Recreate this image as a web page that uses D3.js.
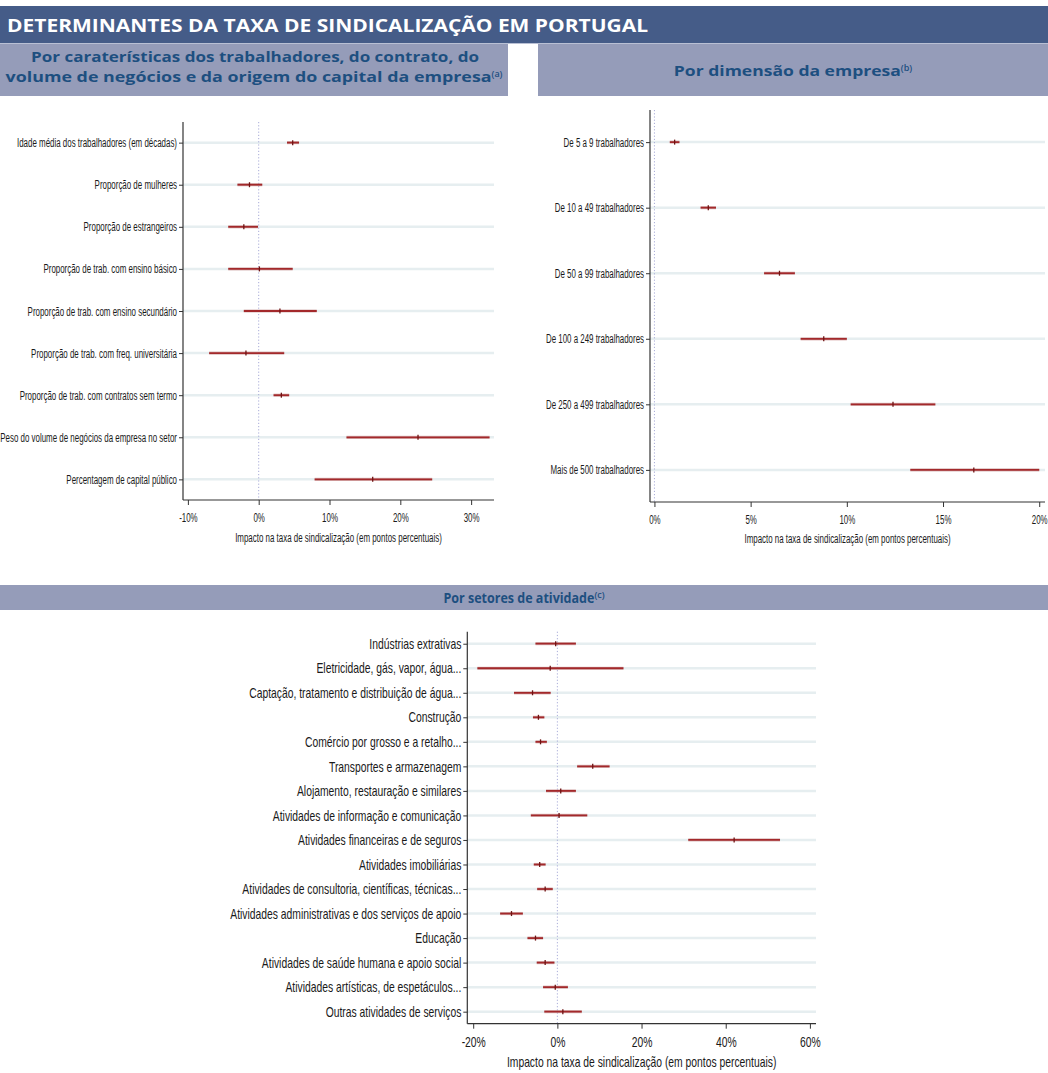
<!DOCTYPE html>
<html>
<head>
<meta charset="utf-8">
<script src="https://cdn.jsdelivr.net/npm/d3@7"></script>
<style>
  html, body { margin: 0; padding: 0; background: #fff; }
  svg { display: block; }
</style>
</head>
<body>
<svg id="chart" width="1048" height="1073"></svg>
<script>
// Coefficient estimates (percentage points) with 95% confidence bounds.
const labelsA = [
  "Idade média dos trabalhadores (em décadas)",
  "Proporção de mulheres",
  "Proporção de estrangeiros",
  "Proporção de trab. com ensino básico",
  "Proporção de trab. com ensino secundário",
  "Proporção de trab. com freq. universitária",
  "Proporção de trab. com contratos sem termo",
  "Peso do volume de negócios da empresa no setor",
  "Percentagem de capital público"
];
const estA = [4.8, -1.3, -2.1, 0.1, 3.0, -1.8, 3.2, 22.5, 16.1];
const loA  = [4.0, -3.0, -4.3, -4.3, -2.1, -7.0, 2.1, 12.4, 7.9];
const hiA  = [5.7, 0.5, -0.1, 4.8, 8.2, 3.6, 4.3, 32.6, 24.5];
const ticksA = [-10, 0, 10, 20, 30];

const labelsB = [
  "De 5 a 9 trabalhadores",
  "De 10 a 49 trabalhadores",
  "De 50 a 99 trabalhadores",
  "De 100 a 249 trabalhadores",
  "De 250 a 499 trabalhadores",
  "Mais de 500 trabalhadores"
];
const estB = [1.05, 2.8, 6.5, 8.8, 12.4, 16.6];
const loB  = [0.8, 2.4, 5.7, 7.6, 10.2, 13.3];
const hiB  = [1.3, 3.2, 7.3, 10.0, 14.6, 20.0];
const ticksB = [0, 5, 10, 15, 20];

const labelsC = [
  "Indústrias extrativas",
  "Eletricidade, gás, vapor, água...",
  "Captação, tratamento e distribuição de água...",
  "Construção",
  "Comércio por grosso e a retalho...",
  "Transportes e armazenagem",
  "Alojamento, restauração e similares",
  "Atividades de informação e comunicação",
  "Atividades financeiras e de seguros",
  "Atividades imobiliárias",
  "Atividades de consultoria, científicas, técnicas...",
  "Atividades administrativas e dos serviços de apoio",
  "Educação",
  "Atividades de saúde humana e apoio social",
  "Atividades artísticas, de espetáculos...",
  "Outras atividades de serviços"
];
const estC = [-0.4, -1.7, -5.9, -4.5, -4.0, 8.4, 0.8, 0.4, 42.0, -4.2, -2.9, -10.9, -5.2, -2.9, -0.5, 1.3];
const loC  = [-5.2, -19.0, -10.3, -5.8, -5.2, 4.7, -2.7, -6.3, 31.1, -5.6, -4.8, -13.6, -7.1, -4.9, -3.4, -3.1];
const hiC  = [4.4, 15.7, -1.6, -3.1, -2.5, 12.4, 4.4, 7.1, 52.9, -2.8, -1.1, -8.2, -3.4, -0.7, 2.5, 5.8];
const ticksC = [-20, 0, 20, 40, 60];

const axisTitle = "Impacto na taxa de sindicalização (em pontos percentuais)";

const svg = d3.select("#chart");
const body = "'Liberation Sans', Arial, sans-serif";
const heading = "'Open Sans', 'Noto Sans', sans-serif";

// Condense a text element horizontally by factor k (narrow face look).
function squeeze(node, k) {
  const len = node.getComputedTextLength();
  node.setAttribute("textLength", (len * k).toFixed(2));
  node.setAttribute("lengthAdjust", "spacingAndGlyphs");
}
// Stretch/condense a text node to an exact width.
function toWidth(node, w) {
  node.setAttribute("textLength", w);
  node.setAttribute("lengthAdjust", "spacingAndGlyphs");
}

// ---- Header bands ----
svg.append("rect").attr("x", 0).attr("y", 6).attr("width", 1048).attr("height", 37).attr("fill", "#455c88");
svg.append("rect").attr("x", 0).attr("y", 43).attr("width", 1048).attr("height", 1).attr("fill", "#b9c0d4");
const title = svg.append("text")
  .attr("x", 7).attr("y", 32)
  .attr("font-family", heading).attr("font-weight", 700).attr("font-size", 18)
  .attr("fill", "#fff")
  .text("DETERMINANTES DA TAXA DE SINDICALIZAÇÃO EM PORTUGAL");
toWidth(title.node(), 641);

function subBand(x0, x1, y0, y1) {
  svg.append("rect").attr("x", x0).attr("y", y0).attr("width", x1 - x0).attr("height", y1 - y0).attr("fill", "#959cb9");
}
function subTitle(cx, y, text, sup, width, fs) {
  const t = svg.append("text")
    .attr("x", cx).attr("y", y).attr("text-anchor", "middle")
    .attr("font-family", heading).attr("font-weight", 700).attr("font-size", fs)
    .attr("fill", "#1d4f80");
  const main = t.append("tspan").text(text);
  toWidth(main.node(), width);
  if (sup) {
    t.append("tspan").attr("font-size", 9).attr("font-weight", 600).attr("dy", -5).text(sup);
  }
  return t;
}

subBand(0, 508, 44, 96);
subBand(538, 1048, 44, 96);
subBand(0, 1048, 585, 610);

subTitle(255, 62, "Por caraterísticas dos trabalhadores, do contrato, do", null, 448, 14.5);
subTitle(254, 82, "volume de negócios e da origem do capital da empresa", "(a)", 486, 14.5);
subTitle(793, 76, "Por dimensão da empresa", "(b)", 227, 15);
subTitle(524, 603, "Por setores de atividade", "(c)", 151, 14.5);

// ---- Coefficient plot panel ----
function panel(opts) {
  const { labels, est, lo, hi, ticks, xDomain, xRange, yRange, fontSize, tickY, titleY, refLabel, refWidth } = opts;
  const g = svg.append("g");
  const x = d3.scaleLinear().domain(xDomain).range(xRange);
  const y = d3.scalePoint().domain(labels).range(yRange).padding(0.49);

  // horizontal gridlines at each row
  g.append("g").selectAll("line").data(labels).join("line")
    .attr("x1", xRange[0]).attr("x2", xRange[1])
    .attr("y1", d => y(d)).attr("y2", d => y(d))
    .attr("stroke", "#e6eef0").attr("stroke-width", 2.5);

  // dotted reference at zero
  g.append("line")
    .attr("x1", x(0)).attr("x2", x(0))
    .attr("y1", yRange[0]).attr("y2", yRange[1])
    .attr("stroke", "#a9acd8").attr("stroke-width", 1)
    .attr("stroke-dasharray", "1.2,2");

  const rows = labels.map((l, i) => ({ l, e: est[i], a: lo[i], b: hi[i] }));

  // confidence intervals
  g.append("g").selectAll("line").data(rows).join("line")
    .attr("x1", d => x(d.a)).attr("x2", d => x(d.b))
    .attr("y1", d => y(d.l)).attr("y2", d => y(d.l))
    .attr("stroke", "#c98a8a").attr("stroke-width", 3.2).attr("stroke-opacity", 0.55);
  g.append("g").selectAll("line").data(rows).join("line")
    .attr("x1", d => x(d.a)).attr("x2", d => x(d.b))
    .attr("y1", d => y(d.l)).attr("y2", d => y(d.l))
    .attr("stroke", "#a3292b").attr("stroke-width", 1.8);

  // point estimates
  g.append("g").selectAll("line").data(rows).join("line")
    .attr("x1", d => x(d.e)).attr("x2", d => x(d.e))
    .attr("y1", d => y(d.l) - 2.5).attr("y2", d => y(d.l) + 2.5)
    .attr("stroke", "#6e1414").attr("stroke-width", 1.3);

  // y axis
  const ya = g.append("g").attr("transform", `translate(${xRange[0]},0)`)
    .call(d3.axisLeft(y).tickSize(4).tickPadding(2));
  ya.select(".domain").attr("d", `M0,${yRange[0]}V${yRange[1]}`).attr("stroke", "#333").attr("stroke-width", 1.2);
  ya.selectAll(".tick line").attr("stroke", "#333");
  ya.selectAll(".tick text").attr("font-family", body).attr("font-size", fontSize).attr("fill", "#1a1a1a");

  // x axis
  const xa = g.append("g").attr("transform", `translate(0,${yRange[1]})`)
    .call(d3.axisBottom(x).tickValues(ticks).tickFormat(d => d + "%").tickSize(5).tickPadding(3));
  xa.select(".domain").attr("d", `M${xRange[0]},0H${xRange[1]}`).attr("stroke", "#333").attr("stroke-width", 1.2);
  xa.selectAll(".tick line").attr("stroke", "#333");
  xa.selectAll(".tick text").attr("font-family", body).attr("font-size", fontSize).attr("fill", "#1a1a1a")
    .attr("y", tickY - yRange[1]).attr("dy", null);

  const t = g.append("text")
    .attr("x", (xRange[0] + xRange[1]) / 2).attr("y", titleY)
    .attr("text-anchor", "middle")
    .attr("font-family", body).attr("font-size", fontSize).attr("fill", "#1a1a1a")
    .text(axisTitle);

  // condensed lettering: factor derived from one label's set width
  const ref = ya.selectAll(".tick text").filter(d => d === refLabel).node();
  const k = refWidth / ref.getComputedTextLength();
  ya.selectAll(".tick text").each(function () { squeeze(this, k); });
  xa.selectAll(".tick text").each(function () { squeeze(this, k); });
  squeeze(t.node(), k);
}

panel({
  labels: labelsA, est: estA, lo: loA, hi: hiA, ticks: ticksA,
  xDomain: [-10.69, 33.23], xRange: [183, 494], yRange: [122, 500],
  fontSize: 12.5, tickY: 522, titleY: 542,
  refLabel: labelsA[0], refWidth: 160
});

panel({
  labels: labelsB, est: estB, lo: loB, hi: hiB, ticks: ticksB,
  xDomain: [-0.23, 20.3], xRange: [650, 1045], yRange: [110, 502],
  fontSize: 12.5, tickY: 524, titleY: 543,
  refLabel: labelsB[3], refWidth: 98
});

panel({
  labels: labelsC, est: estC, lo: loC, hi: hiC, ticks: ticksC,
  xDomain: [-21.4, 61.45], xRange: [467.3, 816], yRange: [631.7, 1023.7],
  fontSize: 14.5, tickY: 1047, titleY: 1067,
  refLabel: labelsC[11], refWidth: 231
});
</script>
</body>
</html>
